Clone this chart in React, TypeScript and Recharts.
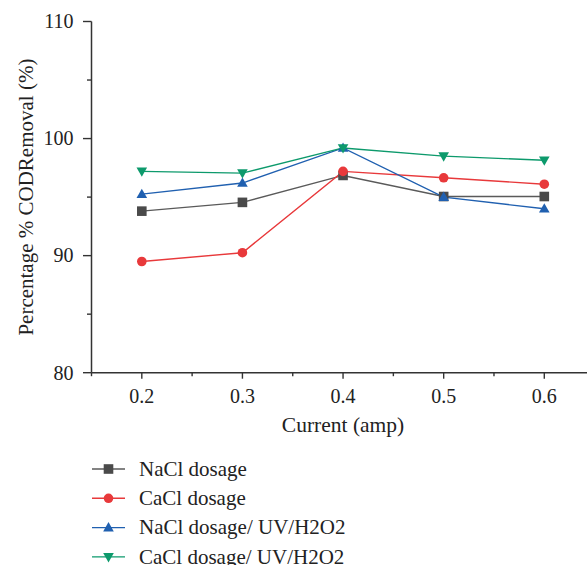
import React from "react";
import { LineChart, Line, XAxis, YAxis, Legend, Label } from "recharts";

// ---- data ----
const current = [0.2, 0.3, 0.4, 0.5, 0.6];
const naclDosage = [93.8, 94.55, 96.85, 95.05, 95.05];
const caclDosage = [89.5, 90.25, 97.2, 96.65, 96.1];
const naclUV = [95.25, 96.2, 99.2, 95.0, 94.0];
const caclUV = [97.2, 97.05, 99.2, 98.5, 98.15];

const seriesKeys = ["nacl", "cacl", "naclUV", "caclUV"];
const seriesNames = ["NaCl dosage", "CaCl dosage", "NaCl dosage/ UV/H2O2", "CaCl dosage/ UV/H2O2"];

const xMajorTicks = [0.2, 0.3, 0.4, 0.5, 0.6];
const xMinorTicks = [0.15, 0.25, 0.35, 0.45, 0.55, 0.65];
const yMajorTicks = [80, 90, 100, 110];
const yMinorTicks = [85, 95, 105];

const xTitle = "Current (amp)";
const yTitle = "Percentage % CODRemoval (%)";

// ---- styles ----
const FONT = '"Liberation Serif", "DejaVu Serif", "Noto Serif", Times, serif';
const TXT = { fontFamily: FONT };
const AXIS = "#333333";
const styles: Record<string, { line: string; fill: string; shape: string }> = {
  nacl: { line: "#5a5a5a", fill: "#4a4a4a", shape: "square" },
  cacl: { line: "#e8393b", fill: "#e8393b", shape: "circle" },
  naclUV: { line: "#2060b0", fill: "#2060b0", shape: "triangleUp" },
  caclUV: { line: "#0d9a6c", fill: "#0d9a6c", shape: "triangleDown" },
};

const data = current.map((c, i) => ({
  current: c,
  nacl: naclDosage[i],
  cacl: caclDosage[i],
  naclUV: naclUV[i],
  caclUV: caclUV[i],
}));

const allXTicks = [...xMinorTicks, ...xMajorTicks].sort((a, b) => a - b);
const allYTicks = [...yMinorTicks, ...yMajorTicks].sort((a, b) => a - b);

function Marker({ cx, cy, shape, fill }: { cx: number; cy: number; shape: string; fill: string }) {
  if (cx == null || cy == null || isNaN(cx) || isNaN(cy)) return null;
  if (shape === "square") return <rect x={cx - 4.8} y={cy - 4.8} width={9.6} height={9.6} fill={fill} />;
  if (shape === "circle") return <circle cx={cx} cy={cy} r={4.8} fill={fill} />;
  if (shape === "triangleUp")
    return <polygon points={`${cx},${cy - 5.5} ${cx - 5.3},${cy + 3.8} ${cx + 5.3},${cy + 3.8}`} fill={fill} />;
  return <polygon points={`${cx},${cy + 5.5} ${cx - 5.3},${cy - 3.8} ${cx + 5.3},${cy - 3.8}`} fill={fill} />;
}

const BottomTick = (props: any) => {
  const { x, y, payload } = props;
  const major = xMajorTicks.includes(payload.value);
  return (
    <g>
      <line x1={x} x2={x} y1={y} y2={y + (major ? 6 : 3.5)} stroke={AXIS} strokeWidth={1.4} />
      {major && (
        <text x={x} y={y + 30.5} textAnchor="middle" style={TXT} fontSize={20} fill="#222">
          {payload.value.toFixed(1)}
        </text>
      )}
    </g>
  );
};

const TopTick = (props: any) => {
  const { x, y, payload } = props;
  const major = xMinorTicks.includes(payload.value);
  return <line x1={x} x2={x} y1={y} y2={y + (major ? 7 : 3.5)} stroke={AXIS} strokeWidth={1.4} />;
};

const LeftTick = (props: any) => {
  const { x, y, payload } = props;
  const major = yMajorTicks.includes(payload.value);
  return (
    <g>
      <line x1={x - (major ? 8.5 : 4.5)} x2={x} y1={y} y2={y} stroke={AXIS} strokeWidth={1.4} />
      {major && (
        <text x={x - 18} y={y + 6.8} textAnchor="end" style={TXT} fontSize={20} fill="#222">
          {payload.value}
        </text>
      )}
    </g>
  );
};

const LegendContent = () => (
  <svg width={330} height={120} style={{ display: "block" }}>
    {seriesKeys.map((k, i) => {
      const cy = 17 + 29.3 * i;
      const s = styles[k];
      return (
        <g key={k}>
          <line x1={2} x2={35} y1={cy} y2={cy} stroke={s.line} strokeWidth={1.4} />
          <Marker cx={18.5} cy={cy} shape={s.shape} fill={s.fill} />
          <text x={49} y={cy + 6.8} style={TXT} fontSize={21} fill="#222">
            {seriesNames[i]}
          </text>
        </g>
      );
    })}
  </svg>
);

export default function App() {
  return (
    <div style={{ position: "absolute", left: 0, top: 0, width: 587, height: 565, overflow: "hidden", background: "#fff", fontFamily: FONT }}>
      <LineChart
        width={600}
        height={565}
        data={data}
        margin={{ top: 21.5, right: 5.4, bottom: 132.3, left: 0 }}
      >
        <XAxis
          dataKey="current"
          type="number"
          domain={[0.15, 0.65]}
          ticks={allXTicks}
          interval={0}
          tickLine={false}
          tickSize={0}
          tickMargin={0}
          height={60}
          axisLine={{ stroke: AXIS, strokeWidth: 1.5 }}
          tick={<BottomTick />}
          allowDataOverflow
        >
          <Label
            content={(p: any) => {
              const vb = p.viewBox;
              return (
                <text x={vb.x + vb.width / 2} y={vb.y + 59} textAnchor="middle" style={TXT} fontSize={21.5} fill="#222">
                  {xTitle}
                </text>
              );
            }}
          />
        </XAxis>
        <XAxis
          xAxisId="top"
          orientation="top"
          dataKey="current"
          type="number"
          domain={[0.15, 0.65]}
          ticks={allXTicks}
          interval={0}
          tickLine={false}
          tickSize={0}
          tickMargin={0}
          height={0}
          axisLine={{ stroke: AXIS, strokeWidth: 1.5 }}
          tick={<TopTick />}
          allowDataOverflow
        />
        <YAxis
          type="number"
          domain={[80, 110]}
          ticks={allYTicks}
          interval={0}
          tickLine={false}
          tickSize={0}
          tickMargin={0}
          width={91.5}
          axisLine={{ stroke: AXIS, strokeWidth: 1.5 }}
          tick={<LeftTick />}
          allowDataOverflow
        >
          <Label
            content={(p: any) => {
              const vb = p.viewBox;
              const cx = 33;
              const cy = vb.y + vb.height / 2;
              return (
                <text
                  x={cx}
                  y={cy}
                  transform={`rotate(-90 ${cx} ${cy})`}
                  textAnchor="middle"
                  style={TXT}
                  fontSize={21}
                  fill="#222"
                >
                  {yTitle}
                </text>
              );
            }}
          />
        </YAxis>
        <Legend
          verticalAlign="middle"
          align="center"
          layout="horizontal"
          content={<LegendContent />}
          wrapperStyle={{ left: 90, top: 452, width: 330, height: 120 }}
        />
        {seriesKeys.map((k, i) => (
          <Line
            key={k}
            dataKey={k}
            name={seriesNames[i]}
            stroke={styles[k].line}
            strokeWidth={1.4}
            isAnimationActive={false}
            dot={(p: any) => (
              <Marker key={`${k}-${p.index}`} cx={p.cx} cy={p.cy} shape={styles[k].shape} fill={styles[k].fill} />
            )}
            activeDot={false}
          />
        ))}
      </LineChart>
    </div>
  );
}
